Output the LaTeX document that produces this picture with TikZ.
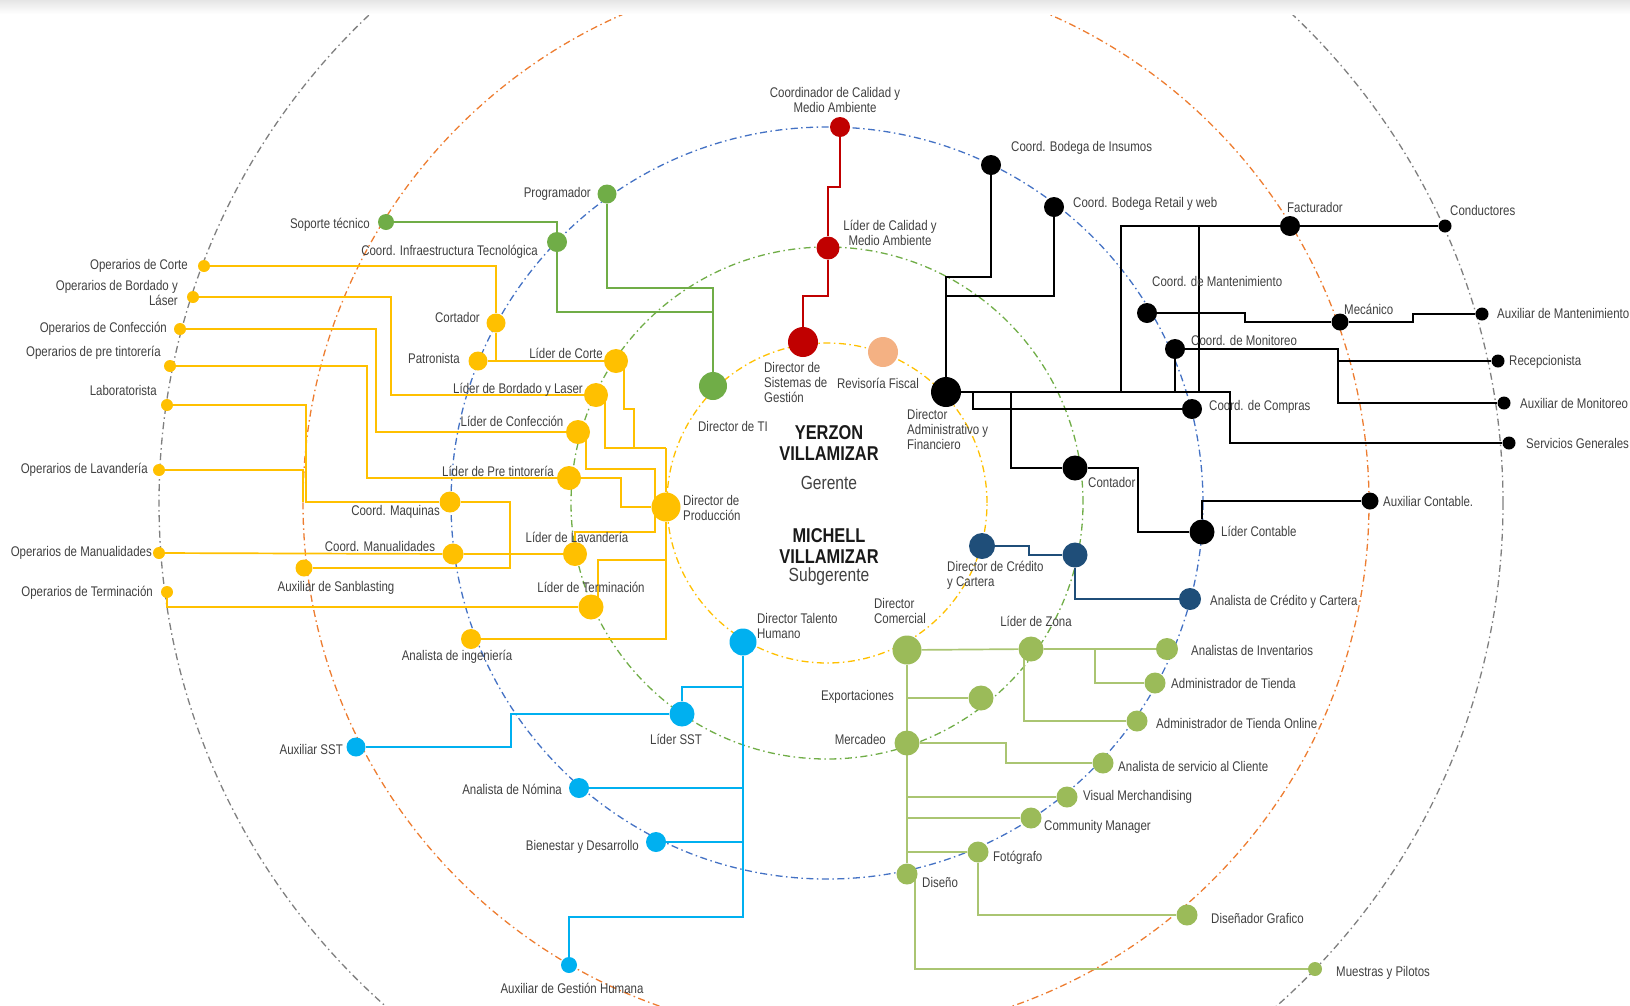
\documentclass[tikz,border=0pt]{standalone}
\usepackage{fontspec}
\setmainfont{Liberation Sans}[FakeStretch=0.82]
\usetikzlibrary{calc,positioning}
\definecolor{cProd}{HTML}{FFC000}
\definecolor{cTec}{HTML}{70AD47}
\definecolor{cCal}{HTML}{C00000}
\definecolor{cFis}{HTML}{F4B183}
\definecolor{cCre}{HTML}{1F4E79}
\definecolor{cHum}{HTML}{00B0F0}
\definecolor{cCom}{HTML}{9BBB59}
\definecolor{cTxt}{HTML}{404040}
\definecolor{rYel}{HTML}{FFC000}
\definecolor{rGrn}{HTML}{70AD47}
\definecolor{rBlu}{HTML}{4472C4}
\definecolor{rOra}{HTML}{ED7D31}
\definecolor{rGry}{HTML}{7F7F7F}
\pgfdeclarelayer{background}
\pgfsetlayers{background,main}
\tikzset{%
	person/.style   = {circle, inner sep=0pt, minimum size=#1},
	prod/.style     = {person=#1, fill=cProd}, prod/.default=20pt, % Produccion
	tec/.style      = {person=#1, fill=cTec}, tec/.default=20pt, % TI
	cal/.style      = {person=#1, fill=cCal}, cal/.default=20pt, % Calidad
	fis/.style      = {person=#1, fill=cFis}, fis/.default=20pt,
	adm/.style      = {person=#1, fill=black}, adm/.default=20pt, % Administrativo
	cre/.style      = {person=#1, fill=cCre}, cre/.default=20pt, % Credito
	hum/.style      = {person=#1, fill=cHum}, hum/.default=20pt, % Talento humano
	com/.style      = {person=#1, fill=cCom}, com/.default=20pt, % Comercial
	lbl/.style      = {font=\fontsize{14}{15}\selectfont, text=cTxt, inner sep=0pt},
	boss/.style     = {font=\bfseries\fontsize{20}{21.5}\selectfont, text=black!90, align=center, inner sep=0pt},
	role/.style     = {font=\fontsize{19}{20}\selectfont, text=cTxt, inner sep=0pt},
	ring/.style     = {line width=1.3pt, dash pattern=on 7pt off 3.5pt on 1.5pt off 3.5pt},
}
\tikzset{%
	prodline/.style = {draw=cProd, line width=1.7pt},
	tecline/.style  = {draw=cTec, line width=1.4pt},
	calline/.style  = {draw=cCal, line width=1.3pt},
	admline/.style  = {draw=black, line width=1.4pt},
	creline/.style  = {draw=cCre, line width=1.5pt},
	humline/.style  = {draw=cHum, line width=1.5pt},
	comline/.style  = {draw=cCom!85!white, line width=1.7pt},
}

\begin{document}
\begin{tikzpicture}[x=1pt,y=-1pt]
	\useasboundingbox (0,0) rectangle (1630,1005);
	\fill[top color=black!10, bottom color=white] (0,0) rectangle (1630,14);

	% direccion
	\node [cal=30pt] (dsis) at (803,342) {};
	\node [fis=30pt] (revfis) at (883,352) {};
	\node [tec=28pt] (dti) at (713,386) {};
	\node [adm=30pt] (dadm) at (946,392) {};
	\node [prod=29pt] (dprod) at (666,507) {};
	\node [cre=26pt] (dcred) at (982,546) {};
	\node [hum=27pt] (dth) at (743,642) {};
	\node [com=29pt] (dcom) at (907,650) {};

	\node [lbl, align=left, anchor=west] (tdsis) at (764,382) {Director de\\Sistemas de\\Gestión};
	\node [lbl] (trevfis) at (878,383) {Revisoría Fiscal};
	\node [lbl, anchor=west] (tdti) at (698,426) {Director de TI};
	\node [lbl, align=left, anchor=west] (tdadm) at (907,429) {Director\\Administrativo y\\Financiero};
	\node [lbl, align=left, anchor=west] (tdprod) at (683,508) {Director de\\Producción};
	\node [lbl, align=left, anchor=west] (tdcred) at (947,575) {Director de Crédito\\y Cartera};
	\node [lbl, align=left, anchor=west] (tdth) at (757,626) {Director Talento\\Humano};
	\node [lbl, align=left, anchor=west] (tdcom) at (874,611) {Director\\Comercial};

	\node [boss] (yerzon) at (829,443) {YERZON\\VILLAMIZAR};
	\node [role] (gerente) at (829,483) {Gerente};
	\node [boss] (michell) at (829,546) {MICHELL\\VILLAMIZAR};
	\node [role] (subgerente) at (829,577) {Subgerente};

	% calidad
	\node [cal=20pt] (coordcal) at (840,127) {};
	\node [cal=23pt] (lidcal) at (828,248) {};
	\node [lbl, align=center] (tcoordcal) at (835,100) {Coordinador de Calidad y\\Medio Ambiente};
	\node [lbl, align=center] (tlidcal) at (890,233) {Líder de Calidad y\\Medio Ambiente};

	% administrativo y financiero
	\node [adm=20pt] (insumos) at (991,165) {};
	\node [adm=20pt] (retail) at (1054,207) {};
	\node [adm=20pt] (fact) at (1290,226) {};
	\node [adm=13pt] (cond) at (1445,226) {};
	\node [adm=20pt] (cmant) at (1147,313) {};
	\node [adm=17pt] (mec) at (1340,322) {};
	\node [adm=13pt] (auxmant) at (1482,314) {};
	\node [adm=20pt] (cmonit) at (1175,349) {};
	\node [adm=13pt] (recep) at (1498,361) {};
	\node [adm=13pt] (auxmonit) at (1504,403) {};
	\node [adm=13pt] (servgen) at (1509,443) {};
	\node [adm=20pt] (compras) at (1192,409) {};
	\node [adm=25pt] (conta) at (1075,468) {};
	\node [adm=25pt] (lidcont) at (1202,532) {};
	\node [adm=17pt] (auxcont) at (1370,501) {};

	\node [lbl, anchor=west] (tinsumos) at (1011,148) {Coord. Bodega de Insumos};
	\node [lbl, anchor=west] (tretail) at (1073,204) {Coord. Bodega Retail y web};
	\node [lbl, anchor=west] (tfact) at (1287,207) {Facturador};
	\node [lbl, anchor=west] (tcond) at (1450,210) {Conductores};
	\node [lbl, anchor=west] (tcmant) at (1152,281) {Coord. de Mantenimiento};
	\node [lbl, anchor=west] (tmec) at (1344,309) {Mecánico};
	\node [lbl, anchor=west] (tauxmant) at (1497,313) {Auxiliar de Mantenimiento};
	\node [lbl, anchor=west] (tcmonit) at (1191,340) {Coord. de Monitoreo};
	\node [lbl, anchor=west] (trecep) at (1509,362) {Recepcionista};
	\node [lbl, anchor=west] (tauxmonit) at (1520,403) {Auxiliar de Monitoreo};
	\node [lbl, anchor=west] (tservgen) at (1526,443) {Servicios Generales};
	\node [lbl, anchor=west] (tcompras) at (1209,407) {Coord. de Compras};
	\node [lbl, anchor=west] (tconta) at (1088,482) {Contador};
	\node [lbl, anchor=west] (tlidcont) at (1221,531) {Líder Contable};
	\node [lbl, anchor=west] (tauxcont) at (1383,501) {Auxiliar Contable.};

	% tecnologia
	\node [tec=19pt] (prog) at (607,194) {};
	\node [tec=16pt] (soporte) at (386,222) {};
	\node [tec=20pt] (cinfra) at (557,242) {};
	\node [lbl, anchor=east] (tprog) at (591,194) {Programador};
	\node [lbl, anchor=east] (tsoporte) at (370,225) {Soporte técnico};
	\node [lbl, anchor=east] (tcinfra) at (538,252) {Coord. Infraestructura Tecnológica};

	% produccion
	\node [prod=12pt] (opcorte) at (204,266) {};
	\node [prod=12pt] (opbord) at (193,297) {};
	\node [prod=12pt] (opconf) at (180,329) {};
	\node [prod=12pt] (oppre) at (170,366) {};
	\node [prod=12pt] (lab) at (167,405) {};
	\node [prod=12pt] (oplav) at (159,470) {};
	\node [prod=12pt] (opman) at (159,553) {};
	\node [prod=12pt] (opterm) at (167,592) {};
	\node [prod=19pt] (cortador) at (496,323) {};
	\node [prod=19pt] (patron) at (478,361) {};
	\node [prod=24pt] (lcorte) at (616,361) {};
	\node [prod=24pt] (lbord) at (596,395) {};
	\node [prod=24pt] (lconf) at (578,432) {};
	\node [prod=24pt] (lpre) at (569,478) {};
	\node [prod=21pt] (cmaq) at (450,502) {};
	\node [prod=21pt] (cman) at (453,554) {};
	\node [prod=24pt] (llav) at (575,554) {};
	\node [prod=17pt] (sanb) at (304,568) {};
	\node [prod=25pt] (lterm) at (591,607) {};
	\node [prod=20pt] (aing) at (471,639) {};

	\node [lbl, anchor=east] (topcorte) at (188,266) {Operarios de Corte};
	\node [lbl, anchor=east, align=right] (topbord) at (178,293) {Operarios de Bordado y\\Láser};
	\node [lbl, anchor=east] (topconf) at (167,329) {Operarios de Confección};
	\node [lbl, anchor=east] (toppre) at (161,353) {Operarios de pre tintorería};
	\node [lbl, anchor=east] (tlab) at (157,390) {Laboratorista};
	\node [lbl, anchor=east] (toplav) at (148,470) {Operarios de Lavandería};
	\node [lbl, anchor=east] (topman) at (152,553) {Operarios de Manualidades};
	\node [lbl, anchor=east] (topterm) at (153,593) {Operarios de Terminación};
	\node [lbl, anchor=east] (tcortador) at (480,317) {Cortador};
	\node [lbl, anchor=east] (tpatron) at (460,358) {Patronista};
	\node [lbl] (tlcorte) at (566,353) {Líder de Corte};
	\node [lbl] (tlbord) at (518,390) {Líder de Bordado y Laser};
	\node [lbl] (tlconf) at (512,421) {Líder de Confección};
	\node [lbl] (tlpre) at (498,471) {Líder de Pre tintorería};
	\node [lbl, anchor=east] (tcmaq) at (440,512) {Coord. Maquinas};
	\node [lbl] (tcman) at (380,546) {Coord. Manualidades};
	\node [lbl] (tllav) at (577,537) {Líder de Lavandería};
	\node [lbl] (tsanb) at (336,588) {Auxiliar de Sanblasting};
	\node [lbl] (tlterm) at (591,587) {Líder de Terminación};
	\node [lbl] (taing) at (457,657) {Analista de ingeniería};

	% talento humano
	\node [hum=25pt] (lsst) at (682,714) {};
	\node [hum=20pt] (nom) at (579,788) {};
	\node [hum=20pt] (bien) at (656,842) {};
	\node [hum=19pt] (auxsst) at (356,747) {};
	\node [hum=16pt] (auxgh) at (569,965) {};
	\node [lbl] (tlsst) at (676,739) {Líder SST};
	\node [lbl, anchor=east] (tnom) at (562,789) {Analista de Nómina};
	\node [lbl, anchor=east] (tbien) at (639,847) {Bienestar y Desarrollo};
	\node [lbl, anchor=east] (tauxsst) at (343,749) {Auxiliar SST};
	\node [lbl] (tauxgh) at (572,988) {Auxiliar de Gestión Humana};

	% credito y cartera
	\node [cre=25pt] (cred2) at (1075,555) {};
	\node [cre=22pt] (acred) at (1190,599) {};
	\node [lbl, anchor=west] (tacred) at (1210,602) {Analista de Crédito y Cartera};

	% comercial
	\node [com=25pt] (lzona) at (1031,649) {};
	\node [com=22pt] (ainv) at (1167,649) {};
	\node [com=21pt] (atienda) at (1155,683) {};
	\node [com=21pt] (aonline) at (1137,721) {};
	\node [com=21pt] (asc) at (1103,763) {};
	\node [com=21pt] (vm) at (1067,797) {};
	\node [com=21pt] (cm) at (1031,818) {};
	\node [com=21pt] (foto) at (978,852) {};
	\node [com=21pt] (diseno) at (907,874) {};
	\node [com=21pt] (dgraf) at (1187,915) {};
	\node [com=14pt] (muestras) at (1315,969) {};
	\node [com=25pt] (expo) at (981,698) {};
	\node [com=25pt] (merc) at (907,743) {};

	\node [lbl] (tlzona) at (1036,621) {Líder de Zona};
	\node [lbl, anchor=west] (tainv) at (1191,650) {Analistas de Inventarios};
	\node [lbl, anchor=west] (tatienda) at (1171,683) {Administrador de Tienda};
	\node [lbl, anchor=west] (taonline) at (1156,723) {Administrador de Tienda Online};
	\node [lbl, anchor=west] (tasc) at (1118,766) {Analista de servicio al Cliente};
	\node [lbl, anchor=west] (tvm) at (1083,797) {Visual Merchandising};
	\node [lbl, anchor=west] (tcm) at (1044,827) {Community Manager};
	\node [lbl, anchor=west] (tfoto) at (993,858) {Fotógrafo};
	\node [lbl, anchor=west] (tdiseno) at (922,882) {Diseño};
	\node [lbl, anchor=west] (tdgraf) at (1211,918) {Diseñador Grafico};
	\node [lbl, anchor=west] (tmuestras) at (1336,973) {Muestras y Pilotos};
	\node [lbl, anchor=east] (texpo) at (894,697) {Exportaciones};
	\node [lbl, anchor=east] (tmerc) at (886,739) {Mercadeo};

	% puntos de union
	\coordinate (jfa) at (1121,392);
	\coordinate (jfb) at (1199,392);
	\coordinate (jcom) at (973,392);
	\coordinate (jcon) at (1011,392);
	\coordinate (jrec) at (1338,361);
	\coordinate (jprod) at (666,448);
	\coordinate (jlav) at (303,502);
	\coordinate (jsst) at (743,687);
	\coordinate (jzona) at (1095,649);
	\coordinate (jtrunk) at (907,698);

	\begin{pgfonlayer}{background}
	\begin{scope}
		\clip (0,14) rectangle (1630,1005);
		\draw[ring, rYel] (827,503) circle[radius=160pt];
		\draw[ring, rGrn] (827,503) circle[radius=256pt];
		\draw[ring, rBlu] (827,503) circle[radius=376pt];
		\draw[ring, rOra] (836,503) circle[radius=533pt];
		\draw[ring, rGry] (831,503) circle[radius=672pt];
	\end{scope}

	\draw[calline] (coordcal) |- (828,187) -- (lidcal);
	\draw[calline] (lidcal) |- (803,296) -- (dsis);

	\draw[admline] (dadm) -- (1230,392) |- (servgen);
	\draw[admline] (dadm) |- (991,277) -- (insumos);
	\draw[admline] (dadm) |- (1054,296) -- (retail);
	\draw[admline] (jfa) |- (fact);
	\draw[admline] (jfb) -- (jfb |- fact);
	\draw[admline] (fact) -- (cond);
	\draw[admline] (cmant) -- (1245,313) |- (mec);
	\draw[admline] (mec) -- (1413,322) |- (auxmant);
	\draw[admline] (cmonit) -- (cmonit |- dadm);
	\draw[admline] (cmonit) -- (1338,349) |- (auxmonit);
	\draw[admline] (jrec) -- (recep);
	\draw[admline] (jcom) |- (compras);
	\draw[admline] (jcon) |- (conta);
	\draw[admline] (conta) -- (1138,468) |- (lidcont);
	\draw[admline] (lidcont) |- (auxcont);

	\draw[tecline] (prog) -- (607,288) -| (dti);
	\draw[tecline] (cinfra) -- (557,312) -| (dti);
	\draw[tecline] (soporte) -| (cinfra);

	\draw[prodline] (opcorte) -| (cortador);
	\draw[prodline] (cortador) |- (lcorte);
	\draw[prodline] (patron) -- (lcorte);
	\draw[prodline] ($(lcorte)+(8,0)$) |- (634,409) |- (jprod);
	\draw[prodline] ($(lbord)+(9,0)$) |- (jprod);
	\draw[prodline] (jprod) -- (dprod);
	\draw[prodline] (opbord) -- (391,297) |- (lbord);
	\draw[prodline] (opconf) -- (376,329) |- (lconf);
	\draw[prodline] ($(lconf)+(8,0)$) |- (655,469) |- (575,532) -- (llav);
	\draw[prodline] (oppre) -- (367,366) |- (lpre);
	\draw[prodline] (lpre) -- (621,478) |- (dprod);
	\draw[prodline] (lab) -- (306,405) |- (cmaq);
	\draw[prodline] (oplav) -| (jlav);
	\draw[prodline] (cmaq) -- (510,502) |- (sanb);
	\draw[prodline] (opman) -- (cman) -- (llav);
	\draw[prodline] (opterm) |- (lterm);
	\draw[prodline] ($(lterm)+(7,0)$) |- (666,560);
	\draw[prodline] (aing) -| (dprod);

	\draw[humline] (dth) -- (743,917) -| (auxgh);
	\draw[humline] (jsst) -| (lsst);
	\draw[humline] (lsst) -- (511,714) |- (auxsst);
	\draw[humline] (nom) -- (nom -| dth);
	\draw[humline] (bien) -- (bien -| dth);

	\draw[creline] (dcred) -- (1029,546) |- (cred2);
	\draw[creline] (cred2) |- (acred);

	\draw[comline] (dcom) -- (lzona) -- (ainv);
	\draw[comline] (jzona) |- (atienda);
	\draw[comline] ($(lzona)+(-7,0)$) |- (aonline);
	\draw[comline] (dcom) -- (diseno);
	\draw[comline] (jtrunk) -- (expo);
	\draw[comline] (merc) -- (1006,743) |- (asc);
	\draw[comline] (vm) -- (vm -| dcom);
	\draw[comline] (cm) -- (cm -| dcom);
	\draw[comline] (foto) -- (foto -| dcom);
	\draw[comline] (foto) |- (dgraf);
	\draw[comline] ($(diseno)+(8,0)$) |- (muestras);
	\end{pgfonlayer}
\end{tikzpicture}
\end{document}
